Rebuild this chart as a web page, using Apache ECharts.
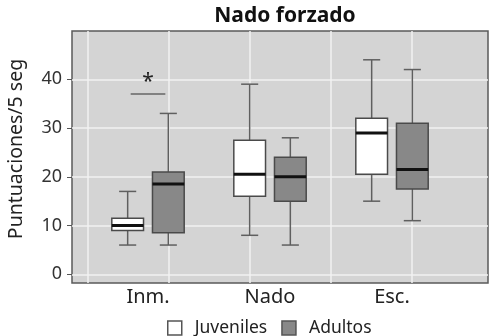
<!DOCTYPE html>
<html>
<head>
<meta charset="utf-8">
<script src="https://cdn.jsdelivr.net/npm/echarts@6/dist/echarts.min.js"></script>
<style>
  html, body { margin: 0; padding: 0; background: #fff; }
  #chart { width: 490px; height: 336px; }
</style>
</head>
<body>
<div id="chart"></div>
<script>
// datos: [categoria, minimo, Q1, mediana, Q3, maximo]
const categories = ['Inm.', 'Nado', 'Esc.'];
const juveniles = [
  [0, 6, 9, 10, 11.5, 17],
  [1, 8, 16, 20.5, 27.5, 39],
  [2, 15, 20.5, 29, 32, 44]
];
const adultos = [
  [0, 6, 8.5, 18.5, 21, 33],
  [1, 6, 15, 20, 24, 28],
  [2, 11, 17.5, 21.5, 31, 42]
];
const yTicks = [0, 10, 20, 30, 40];
// marca de significacion (categoria, altura)
const sigMarks = [[0, 37]];

let myChart = echarts.init(document.getElementById('chart'));

function boxRenderer(side) {
  return function (params, api) {
    const band = api.size([1, 0])[0];
    const cx = api.coord([api.value(0), 0])[0] + side * band / 6;
    const w = band * 0.26;
    const cap = band * 0.14;
    const low = api.coord([api.value(0), api.value(1)])[1];
    const q1 = api.coord([api.value(0), api.value(2)])[1];
    const med = api.coord([api.value(0), api.value(3)])[1];
    const q3 = api.coord([api.value(0), api.value(4)])[1];
    const high = api.coord([api.value(0), api.value(5)])[1];
    const lineStyle = { stroke: '#5f5f5f', lineWidth: 1.5 };
    return {
      type: 'group',
      children: [
        { type: 'line', shape: { x1: cx, y1: high, x2: cx, y2: q3 }, style: lineStyle },
        { type: 'line', shape: { x1: cx, y1: q1, x2: cx, y2: low }, style: lineStyle },
        { type: 'line', shape: { x1: cx - cap / 2, y1: high, x2: cx + cap / 2, y2: high }, style: lineStyle },
        { type: 'line', shape: { x1: cx - cap / 2, y1: low, x2: cx + cap / 2, y2: low }, style: lineStyle },
        {
          type: 'rect',
          shape: { x: cx - w / 2, y: q3, width: w, height: q1 - q3 },
          style: { fill: api.visual('color'), stroke: '#4a4a4a', lineWidth: 1.5 }
        },
        { type: 'line', shape: { x1: cx - w / 2, y1: med, x2: cx + w / 2, y2: med }, style: { stroke: '#111', lineWidth: 3 } }
      ]
    };
  };
}

function sigRenderer(params, api) {
  const band = api.size([1, 0])[0];
  const c = api.coord([api.value(0), api.value(1)]);
  const x1 = c[0] - band / 6 + 3;
  const x2 = c[0] + band / 6 - 3;
  return {
    type: 'group',
    children: [
      { type: 'line', shape: { x1: x1, y1: c[1], x2: x2, y2: c[1] }, style: { stroke: '#666', lineWidth: 1.5 } },
      {
        type: 'text',
        style: {
          x: (x1 + x2) / 2, y: c[1] - 1, text: '*',
          fill: '#222', font: '21px "Noto Sans"',
          textAlign: 'center', textVerticalAlign: 'bottom'
        }
      }
    ]
  };
}

const font = 'Noto Sans';
const option = {
  animation: false,
  textStyle: { fontFamily: font },
  title: {
    text: 'Nado forzado',
    left: 280,
    textAlign: 'center',
    top: 1,
    textStyle: { fontSize: 21, fontWeight: 'bold', color: '#111', fontFamily: font }
  },
  legend: {
    data: ['Juveniles', 'Adultos'],
    left: 162,
    top: 314,
    itemWidth: 14,
    itemHeight: 14,
    itemGap: 14,
    icon: 'rect',
    itemStyle: { borderColor: '#555', borderWidth: 1.5 },
    textStyle: { fontSize: 17.5, color: '#222', fontFamily: font, padding: [0, 0, 0, 8] }
  },
  graphic: [{
    type: 'text',
    x: 16,
    y: 149,
    rotation: Math.PI / 2,
    style: {
      text: 'Puntuaciones/5 seg',
      fill: '#222',
      font: '19.5px "Noto Sans"',
      textAlign: 'center',
      textVerticalAlign: 'middle'
    }
  }],
  grid: [
    // fondo del panel
    { left: 72, top: 31, width: 416, height: 252, show: true, backgroundColor: '#d4d4d4', borderColor: '#5a5a5a', borderWidth: 1.5 },
    // lineas horizontales y etiquetas del eje y
    { left: 72, top: 79.3, width: 416, height: 195 },
    // lineas verticales
    { left: 88, top: 31, width: 324, height: 252 },
    // cajas y categorias
    { left: 87, top: 79.3, width: 366, height: 195 }
  ],
  xAxis: [
    { gridIndex: 0, type: 'value', show: false },
    { gridIndex: 1, type: 'value', show: false },
    {
      gridIndex: 2, type: 'value', min: 0, max: 4, interval: 1,
      axisLine: { show: false }, axisTick: { show: false }, axisLabel: { show: false },
      splitLine: { show: true, lineStyle: { color: '#f2f2f2', width: 1.5 } }
    },
    {
      gridIndex: 3, type: 'category', data: categories,
      axisLine: { show: false }, axisTick: { show: false },
      splitLine: { show: false },
      axisLabel: { margin: 13, fontSize: 20, color: '#222', fontFamily: font }
    }
  ],
  yAxis: [
    { gridIndex: 0, type: 'value', show: false },
    {
      gridIndex: 1, type: 'value', min: yTicks[0], max: yTicks[yTicks.length - 1], interval: 10,
      axisLine: { show: false },
      axisTick: { show: true, length: 5, lineStyle: { color: '#555' } },
      axisLabel: { margin: 10, fontSize: 18, color: '#333', fontFamily: font },
      splitLine: { show: true, lineStyle: { color: '#f2f2f2', width: 1.5 } }
    },
    { gridIndex: 2, type: 'value', show: false },
    { gridIndex: 3, type: 'value', min: 0, max: 40, show: false }
  ],
  series: [
    {
      name: 'Juveniles', type: 'custom', xAxisIndex: 3, yAxisIndex: 3,
      itemStyle: { color: '#ffffff' },
      renderItem: boxRenderer(-1),
      encode: { x: 0, y: [1, 2, 3, 4, 5] },
      data: juveniles
    },
    {
      name: 'Adultos', type: 'custom', xAxisIndex: 3, yAxisIndex: 3,
      itemStyle: { color: '#888888' },
      renderItem: boxRenderer(1),
      encode: { x: 0, y: [1, 2, 3, 4, 5] },
      data: adultos
    },
    {
      name: 'sig', type: 'custom', xAxisIndex: 3, yAxisIndex: 3,
      renderItem: sigRenderer,
      encode: { x: 0, y: 1 },
      data: sigMarks
    }
  ]
};
myChart.setOption(option);
</script>
</body>
</html>
